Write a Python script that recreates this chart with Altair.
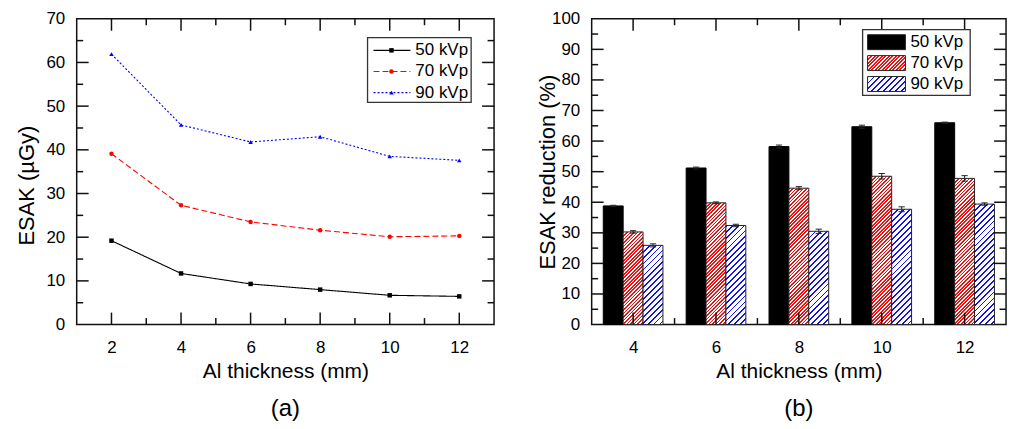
import math
import altair as alt
import pandas as pd

FONT = "Liberation Sans"

# ---------------- data: panel (a) ----------------
thick_a = [2, 4, 6, 8, 10, 12]
esak_50 = [19.2, 11.7, 9.3, 8.0, 6.7, 6.45]
esak_70 = [39.1, 27.3, 23.5, 21.6, 20.1, 20.3]
esak_90 = [61.9, 45.7, 41.8, 43.0, 38.5, 37.6]

# ---------------- data: panel (b) ----------------
thick_b = [4, 6, 8, 10, 12]
red_50 = [38.8, 51.2, 58.2, 64.7, 66.0]
red_70 = [30.3, 39.8, 44.6, 48.5, 47.8]
red_90 = [25.9, 32.4, 30.5, 37.7, 39.4]
err_50 = [0.2, 0.3, 0.5, 0.5, 0.2]
err_70 = [0.4, 0.3, 0.5, 0.9, 0.9]
err_90 = [0.5, 0.4, 0.7, 0.8, 0.4]

# ---------------- tick positions ----------------
xa_major = [2, 4, 6, 8, 10, 12]
xa_minor = [3, 5, 7, 9, 11]
ya_major = [10, 20, 30, 40, 50, 60]
ya_minor = [5, 15, 25, 35, 45, 55, 65]
xb_major = [4, 6, 8, 10, 12]
xb_minor = [5, 7, 9, 11]
yb_major = [10, 20, 30, 40, 50, 60, 70, 80, 90]
yb_minor = [5, 15, 25, 35, 45, 55, 65, 75, 85, 95]

series = ["50 kVp", "70 kVp", "90 kVp"]
colors = ["black", "#ff0000", "#0000ff"]
dashes = [[1, 0], [6, 3], [2, 2]]
shapes = ["square", "circle", "triangle-up"]

# ---------------- layout ----------------
W_A, W_B, H = 419, 416, 307
BAR_W = 0.48
MAJ, MIN = 12, 6.5
SER_LIST = "['50 kVp','70 kVp','90 kVp']"

df_a = pd.DataFrame({
    "t": thick_a * 3,
    "v": esak_50 + esak_70 + esak_90,
    "s": [s for s in series for _ in thick_a],
})
df_b = pd.DataFrame({
    "t": thick_b * 3,
    "v": red_50 + red_70 + red_90,
    "e": err_50 + err_70 + err_90,
    "s": [s for s in series for _ in thick_b],
})


def label_axis(orient, values, title, **kw):
    return alt.Axis(orient=orient, values=values, ticks=False, tickSize=0, domain=False,
                    grid=False, labelFont=FONT, labelFontSize=17, labelColor="black",
                    labelFlush=False, labelOverlap=False, title=title, titleFont=FONT,
                    titleFontWeight="normal", titleColor="black", **kw)


def tick_layers(xs, ys, W, xmaj, xmin, ymaj, ymin):
    out = []
    for vals, L in [(xmaj, MAJ), (xmin, MIN)]:
        d = alt.Chart(pd.DataFrame({"val": vals})).mark_rule(color="#111", strokeWidth=1.5)
        out.append(d.encode(x=alt.X("val:Q", scale=xs, axis=None), y=alt.value(H), y2=alt.value(H - L)))
        out.append(d.encode(x=alt.X("val:Q", scale=xs, axis=None), y=alt.value(0), y2=alt.value(L)))
    for vals, L in [(ymaj, MAJ), (ymin, MIN)]:
        d = alt.Chart(pd.DataFrame({"val": vals})).mark_rule(color="#111", strokeWidth=1.5)
        out.append(d.encode(y=alt.Y("val:Q", scale=ys, axis=None), x=alt.value(0), x2=alt.value(L)))
        out.append(d.encode(y=alt.Y("val:Q", scale=ys, axis=None), x=alt.value(W), x2=alt.value(W - L)))
    return out


def hatch(w, h, color, period, lw):
    L = w + h
    c = L / (w * w + h * h)
    P = period * math.sqrt(2)
    T = lw * math.sqrt(2)
    stops = []
    s = 0.0
    while s < L:
        a = round(s / L, 5)
        b = round(min((s + T) / L, 1.0), 5)
        stops += [alt.GradientStop(offset=a, color="white"),
                  alt.GradientStop(offset=a, color=color),
                  alt.GradientStop(offset=b, color=color),
                  alt.GradientStop(offset=b, color="white")]
        s += P
    stops.append(alt.GradientStop(offset=1, color="white"))
    return alt.LinearGradient(gradient="linear", stops=stops, x1=0, y1=0,
                              x2=round(w * c, 5), y2=round(h * c, 5))


HATCH = {"70 kVp": ("#f01010", 2.5, 1.25), "90 kVp": ("#1010f0", 4.2, 1.3)}

# ================= panel (a) =================
xA = alt.Scale(domain=[1, 13], nice=False, zero=False)
yA = alt.Scale(domain=[0, 70], nice=False, zero=False)
col = alt.Color("s:N", scale=alt.Scale(domain=series, range=colors), legend=None)

lines_a = alt.Chart(df_a).mark_line(strokeWidth=1.1).encode(
    x=alt.X("t:Q", scale=xA, axis=label_axis("bottom", thick_a, "Al thickness (mm)",
                                              labelPadding=15, titleFontSize=21, titlePadding=5)),
    y=alt.Y("v:Q", scale=yA, axis=label_axis("left", list(range(0, 71, 10)), "ESAK (µGy)",
                                              labelPadding=12, titleFontSize=22, titleX=-50,
                                              titleY=167, titleBaseline="middle",
                                              titleAngle=270, titleAlign="center")),
    color=col,
    strokeDash=alt.StrokeDash("s:N", scale=alt.Scale(domain=series, range=dashes), legend=None),
)
points_a = alt.Chart(df_a).mark_point(filled=True, size=20, opacity=1).encode(
    x=alt.X("t:Q", scale=xA, axis=None),
    y=alt.Y("v:Q", scale=yA, axis=None),
    color=col,
    shape=alt.Shape("s:N", scale=alt.Scale(domain=series, range=shapes), legend=None),
)

leg_a = [alt.Chart(pd.DataFrame({"s": ["box"]})).mark_rect(
    fill="white", stroke="#333", strokeWidth=1.3).encode(
    x=alt.value(292), x2=alt.value(396), y=alt.value(19), y2=alt.value(84))]
for i, s in enumerate(series):
    yy = 31.7 + i * 21.2
    d = pd.DataFrame({"s": [s]})
    leg_a.append(alt.Chart(d).mark_rule(color=colors[i], strokeWidth=1.1, strokeDash=dashes[i]).encode(
        x=alt.value(298), x2=alt.value(335), y=alt.value(yy)))
    leg_a.append(alt.Chart(d).mark_point(filled=True, size=20, opacity=1, color=colors[i],
                                         shape=shapes[i]).encode(x=alt.value(316), y=alt.value(yy)))
    leg_a.append(alt.Chart(d).mark_text(align="left", baseline="middle", font=FONT, fontSize=17,
                                        color="black").encode(x=alt.value(340), y=alt.value(yy),
                                                              text="s:N"))

panel_a = alt.layer(
    lines_a, points_a,
    *tick_layers(xA, yA, W_A, xa_major, xa_minor, ya_major, ya_minor),
    *leg_a,
).resolve_axis(x="independent", y="independent").properties(
    width=W_A, height=H,
    title=alt.TitleParams("(a)", orient="bottom", font=FONT, fontSize=24, fontWeight="normal",
                          color="black", offset=16, anchor="middle"))

# ================= panel (b) =================
xB = alt.Scale(domain=[3, 13], nice=False, zero=False)
yB = alt.Scale(domain=[0, 100], nice=False, zero=False)
pos_b = alt.Chart(df_b).transform_calculate(
    k=f"indexof({SER_LIST}, datum.s) - 1"
).transform_calculate(
    xc=f"datum.t + datum.k * {BAR_W}",
    x0=f"datum.t + datum.k * {BAR_W} - {BAR_W / 2}",
    x1=f"datum.t + datum.k * {BAR_W} + {BAR_W / 2}",
    lo="datum.v - datum.e",
    hi="datum.v + datum.e",
    base="0",
    c0=f"datum.t + datum.k * {BAR_W} - 0.075",
    c1=f"datum.t + datum.k * {BAR_W} + 0.075",
)

bars_black = pos_b.transform_filter("datum.s == '50 kVp'").mark_rect(
    fill="black", stroke="black", strokeWidth=1).encode(
    x=alt.X("x0:Q", scale=xB, axis=label_axis("bottom", thick_b, "Al thickness (mm)",
                                               labelPadding=15, titleFontSize=21, titlePadding=5)),
    x2="x1:Q",
    y=alt.Y("v:Q", scale=yB, axis=label_axis("left", list(range(0, 101, 10)), "ESAK reduction (%)",
                                              labelPadding=12, titleFontSize=22, titleX=-44,
                                              titleY=H / 2, titleBaseline="middle",
                                              titleAngle=270, titleAlign="center")),
    y2="base:Q",
)

hatched = []
px_w = BAR_W * W_B / 10
for s in ["70 kVp", "90 kVp"]:
    vals = red_70 if s == "70 kVp" else red_90
    c, per, lw = HATCH[s]
    for t, v in zip(thick_b, vals):
        g = hatch(px_w, v * H / 100, c, per, lw)
        hatched.append(pos_b.transform_filter(f"datum.s == '{s}' && datum.t == {t}").mark_rect(
            fill=g, stroke="#222", strokeWidth=1).encode(
            x=alt.X("x0:Q", scale=xB, axis=None), x2="x1:Q",
            y=alt.Y("v:Q", scale=yB, axis=None), y2="base:Q"))

err_rule = pos_b.mark_rule(color="#222", strokeWidth=1).encode(
    x=alt.X("xc:Q", scale=xB, axis=None), y=alt.Y("lo:Q", scale=yB, axis=None), y2="hi:Q")
err_top = pos_b.mark_rule(color="#222", strokeWidth=1).encode(
    x=alt.X("c0:Q", scale=xB, axis=None), x2="c1:Q", y=alt.Y("hi:Q", scale=yB, axis=None))
err_bot = pos_b.mark_rule(color="#222", strokeWidth=1).encode(
    x=alt.X("c0:Q", scale=xB, axis=None), x2="c1:Q", y=alt.Y("lo:Q", scale=yB, axis=None))

leg_b = [alt.Chart(pd.DataFrame({"s": ["box"]})).mark_rect(
    fill="white", stroke="#333", strokeWidth=1.3).encode(
    x=alt.value(272), x2=alt.value(380), y=alt.value(11), y2=alt.value(77))]
for i, s in enumerate(series):
    yy = 23.5 + i * 21
    d = pd.DataFrame({"s": [s]})
    if s == "50 kVp":
        fill = "black"
    else:
        c, per, lw = HATCH[s]
        fill = hatch(38, 15, c, per, lw)
    leg_b.append(alt.Chart(d).mark_rect(fill=fill, stroke="#222", strokeWidth=1).encode(
        x=alt.value(277), x2=alt.value(315), y=alt.value(yy - 7.5), y2=alt.value(yy + 7.5)))
    leg_b.append(alt.Chart(d).mark_text(align="left", baseline="middle", font=FONT, fontSize=17,
                                        color="black").encode(x=alt.value(320), y=alt.value(yy),
                                                              text="s:N"))

panel_b = alt.layer(
    bars_black, *hatched, err_rule, err_top, err_bot,
    *tick_layers(xB, yB, W_B, xb_major, xb_minor, yb_major, yb_minor),
    *leg_b,
).resolve_axis(x="independent", y="independent").properties(
    width=W_B, height=H,
    title=alt.TitleParams("(b)", orient="bottom", font=FONT, fontSize=24, fontWeight="normal",
                          color="black", offset=16, anchor="middle"))

chart = alt.hconcat(panel_a, panel_b, spacing=98, bounds="flush").properties(
    padding={"left": 15, "top": 8, "right": 9, "bottom": 5},
    background="white",
).configure_view(stroke="#111", strokeWidth=1.5)

chart.save("out.html", embed_options={"renderer": "svg", "actions": False})
